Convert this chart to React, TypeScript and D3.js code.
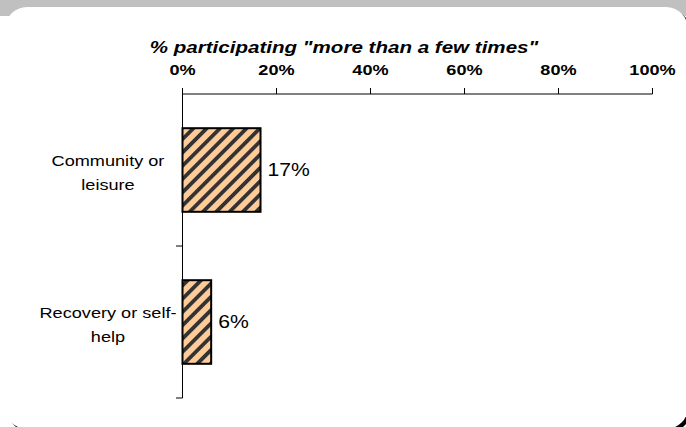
import React from "react";
import * as d3 from "d3";

const categories = ["Community or leisure", "Recovery or self-help"];
const categoryLines = [["Community or", "leisure"], ["Recovery or self-", "help"]];
const values = [16.6, 6.1];
const valueLabels = ["17%", "6%"];
const tickValues = [0, 20, 40, 60, 80, 100];
const title = '% participating "more than a few times"';

const SX = 1.21;

function T(props: { x: number; y: number; anchor?: string; size: number; bold?: boolean; italic?: boolean; children: React.ReactNode }) {
  const font = "'Liberation Sans', Arial, sans-serif";
  return (
    <g transform={`translate(${props.x},${props.y}) scale(${SX},1)`}>
      <text x={0} y={0} textAnchor={props.anchor || "start"} fontFamily={font} fontSize={props.size}
        fontWeight={props.bold ? "bold" : "normal"} fontStyle={props.italic ? "italic" : "normal"} fill="#000">{props.children}</text>
    </g>
  );
}

export default function App() {
  const W = 686, H = 427;
  const x = d3.scaleLinear().domain([0, 100]).range([182.5, 652.5]);
  const y = d3.scaleBand<string>().domain(categories).range([94, 398]).paddingInner(0.45).paddingOuter(0.225);
  const yb = d3.scaleBand<string>().domain(categories).range([94, 398]);
  return (
    <svg width={W} height={H} style={{ position: "absolute", left: 0, top: 0, display: "block" }}>
      <defs>
        <pattern id="hatch" patternUnits="userSpaceOnUse" width={9.4} height={9.4} patternTransform="rotate(45)">
          <rect x={0} y={0} width={9.4} height={9.4} fill="#FFCC99" />
          <rect x={0} y={0} width={3.8} height={9.4} fill="#333333" />
        </pattern>
      </defs>
      <rect x={0} y={0} width={W} height={H} fill="#ffffff" />
      <rect x={0} y={0} width={W} height={16} fill="#c0c0c0" />
      <rect x={8} y={10} width={683} height={422} rx={22} fill="#000000" />
      <rect x={5} y={7} width={683} height={422} rx={22} fill="#ffffff" />
      <T x={344} y={53} anchor="middle" size={17} bold italic>{title}</T>
      {tickValues.map((t) => (
        <g key={t}>
          <T x={x(t)} y={75} anchor="middle" size={15} bold>{t}%</T>
          <line x1={x(t)} x2={x(t)} y1={88} y2={94} stroke="#000" strokeWidth={1} />
        </g>
      ))}
      <line x1={x(0)} x2={x(100)} y1={94} y2={94} stroke="#000" strokeWidth={1} />
      <line x1={x(0)} x2={x(0)} y1={88} y2={398} stroke="#000" strokeWidth={1} />
      {categories.map((c, i) => (
        <g key={c}>
          <line x1={176} x2={x(0)} y1={(yb(c) as number) + yb.bandwidth()} y2={(yb(c) as number) + yb.bandwidth()} stroke="#000" strokeWidth={1} />
          <rect x={x(0)} y={y(c)} width={x(values[i]) - x(0)} height={y.bandwidth()} fill="url(#hatch)" stroke="#000" strokeWidth={2} />
          <T x={x(values[i]) + 7} y={(y(c) as number) + y.bandwidth() / 2 + 6} size={17.5}>{valueLabels[i]}</T>
          {categoryLines[i].map((ln, j) => (
            <T key={j} x={108} y={(yb(c) as number) + yb.bandwidth() / 2 - 4 + j * 24} anchor="middle" size={15}>{ln}</T>
          ))}
        </g>
      ))}
    </svg>
  );
}
